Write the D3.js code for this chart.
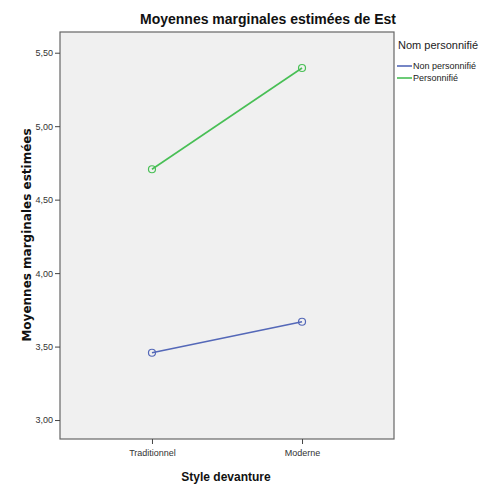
<!DOCTYPE html>
<html><head><meta charset="utf-8">
<script src="https://cdn.jsdelivr.net/npm/d3@7"></script>
<style>body{margin:0;background:#fff}svg text{font-family:"Liberation Sans",Arial,sans-serif}</style>
</head><body><svg id="c" width="480" height="484"></svg>
<script>
const categories = ["Traditionnel", "Moderne"];
const seriesNames = ["Non personnifié", "Personnifié"];
const nonPersonnifie = [3.458, 3.669];
const personnifie = [4.707, 5.396];
const yTicks = [3.0, 3.5, 4.0, 4.5, 5.0, 5.5];
const colors = ["#5468b8", "#48bf55"];

const svg = d3.select("#c");
const L = 60, R = 394, T = 32, B = 439;
const x = d3.scalePoint().domain(categories).range([L, R]).padding(0.613);
const y = d3.scaleLinear().domain([2.871, 5.641]).range([B, T]);

svg.append("rect").attr("x", L).attr("y", T).attr("width", R - L).attr("height", B - T)
  .attr("fill", "#f0f0f0").attr("stroke", "#666").attr("stroke-width", 1.2);

const fmt = d => d.toFixed(2).replace(".", ",");
const ya = svg.append("g").attr("transform", `translate(${L},0)`)
  .call(d3.axisLeft(y).tickValues(yTicks).tickFormat(fmt).tickSize(5).tickPadding(2));
ya.select(".domain").remove();
ya.selectAll("line").attr("stroke", "#444");
ya.selectAll("text").attr("font-size", 9).attr("fill", "#333").attr("font-family", "Liberation Sans, Arial, sans-serif");

const xa = svg.append("g").attr("transform", `translate(0,${B})`)
  .call(d3.axisBottom(x).tickSize(5).tickPadding(6));
xa.select(".domain").remove();
xa.selectAll("line").attr("stroke", "#444");
xa.selectAll("text").attr("font-size", 9).attr("fill", "#333").attr("font-family", "Liberation Sans, Arial, sans-serif");

const series = [nonPersonnifie, personnifie];
const line = d3.line().x((d, i) => x(categories[i])).y(d => y(d));
series.forEach((s, k) => {
  svg.append("path").attr("d", line(s)).attr("fill", "none").attr("stroke", colors[k]).attr("stroke-width", 1.6);
  svg.selectAll(null).data(s).enter().append("circle")
    .attr("cx", (d, i) => x(categories[i])).attr("cy", d => y(d)).attr("r", 3.5)
    .attr("fill", "none").attr("stroke", colors[k]).attr("stroke-width", 1.2);
});

svg.append("text").attr("x", 268).attr("y", 24).attr("text-anchor", "middle")
  .attr("font-size", 14).attr("font-weight", "bold").attr("fill", "#111").text("Moyennes marginales estimées de Est");
svg.append("text").attr("transform", `translate(31,235) rotate(-90)`).attr("text-anchor", "middle")
  .attr("font-size", 12).attr("font-weight", "bold").attr("fill", "#111")
  .style("font-family", "'DejaVu Sans', Verdana, sans-serif").text("Moyennes marginales estimées");
svg.append("text").attr("x", 226).attr("y", 481).attr("text-anchor", "middle")
  .attr("font-size", 12).attr("font-weight", "bold").attr("fill", "#111").text("Style devanture");

const lg = svg.append("g");
lg.append("text").attr("x", 398).attr("y", 49).attr("font-size", 11).attr("fill", "#222").text("Nom personnifié");
seriesNames.forEach((n, k) => {
  const yy = 66 + k * 12;
  lg.append("line").attr("x1", 397).attr("x2", 412).attr("y1", yy).attr("y2", yy).attr("stroke", colors[k]).attr("stroke-width", 1.6);
  lg.append("text").attr("x", 413).attr("y", yy + 3).attr("font-size", 9).attr("fill", "#222").text(n);
});
</script></body></html>
